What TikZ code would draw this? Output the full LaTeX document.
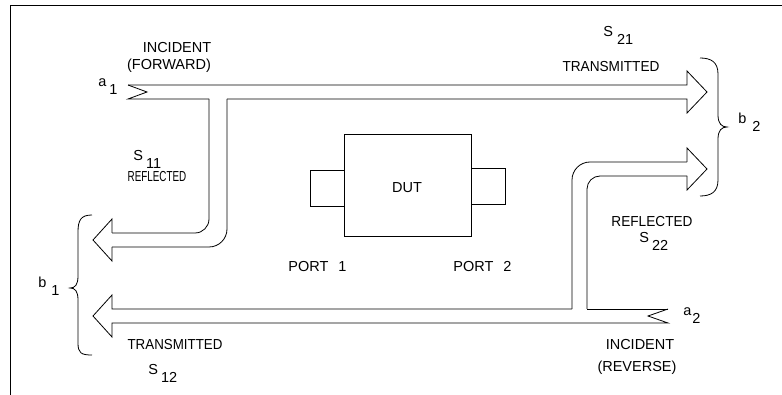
\documentclass[tikz,border=0pt]{standalone}
\usepackage{fontspec}
\setmainfont{Liberation Sans}
\newcommand\ssub[3][3pt]{#2\hspace{#1}\raisebox{-8pt}{#3}}
\newcommand\hsq[2]{\scalebox{#1}[1]{#2}}
\begin{document}
\begin{tikzpicture}[x=1pt,y=-1pt,line width=0.8pt,
  lbl/.style={inner sep=0pt,font=\fontsize{14.5}{16}\selectfont},
  box/.style={draw,inner sep=0pt,line width=0.8pt}]
\useasboundingbox (0,0) rectangle (782,395);
% frame
\draw[line width=1pt] (10,395) -- (10,6) -- (782,6);
% DUT
\node[box,minimum width=34pt,minimum height=36pt] (port1box) at (327,188) {};
\node[box,minimum width=34pt,minimum height=36pt] (port2box) at (488,186) {};
\node[box,fill=white,minimum width=127pt,minimum height=102pt] (dut) at (407.5,185) {};
\node[lbl,anchor=base] (duttext) at (407,193) {DUT};
\node[lbl,anchor=base west] (p1) at (288,272) {PORT\hspace{10pt}1};
\node[lbl,anchor=base west] (p2) at (453,272) {PORT\hspace{10pt}2};
% forward wave
\draw (128,85) -- (687,85) -- (687,71) -- (707,92) -- (687,113) -- (687,99) -- (227,99);
\draw[rounded corners=18pt] (227,99) -- (227,247) -- (112,247);
\draw (112,247) -- (112,261) -- (93,240) -- (112,219) -- (112,233);
\draw[rounded corners=14pt] (112,233) -- (209,233) -- (209,99);
\draw (209,99) -- (128,99) -- (147,92) -- (128,85);
% reverse wave
\draw (668,309) -- (648,316) -- (668,323) -- (112,323) -- (112,337) -- (93,316) -- (112,295) -- (112,309) -- (572,309);
\draw[rounded corners=18pt] (572,309) -- (572,162) -- (687,162);
\draw (687,162) -- (687,148) -- (707,169) -- (687,190) -- (687,176);
\draw[rounded corners=13pt] (687,176) -- (587,176) -- (587,309);
\draw (587,309) -- (668,309);
% braces
\draw (92,215) .. controls (81,215) and (78,220) .. (78,232) -- (78,276)
  .. controls (78,285) and (75,288) .. (70,288)
  .. controls (75,288) and (78,291) .. (78,300) -- (78,343)
  .. controls (78,353) and (81,355) .. (92,355);
\draw (700,58) .. controls (711,58) and (718,62) .. (718,74) -- (718,115)
  .. controls (718,124) and (722,127) .. (727,127)
  .. controls (722,127) and (718,130) .. (718,139) -- (718,180)
  .. controls (718,192) and (711,196) .. (700,196);
% labels
\node[lbl,anchor=base] (incF) at (177,53) {INCIDENT};
\node[lbl,anchor=base] (fwd) at (169,70) {(FORWARD)};
\node[lbl,anchor=base west] (a1) at (98,87) {\ssub{a}{1}};
\node[lbl,anchor=base west] (s11) at (133,161) {\ssub{S}{11}};
\node[lbl,anchor=base] (refl1) at (157,182) {\hsq{0.68}{REFLECTED}};
\node[lbl,anchor=base west] (s21) at (603,37) {\ssub[4pt]{S}{21}};
\node[lbl,anchor=base] (trans2) at (611,72) {\hsq{0.94}{TRANSMITTED}};
\node[lbl,anchor=base west] (b2) at (738,124) {\ssub[6pt]{b}{2}};
\node[lbl,anchor=base west] (b1) at (38,288) {\ssub[5pt]{b}{1}};
\node[lbl,anchor=base] (trans1) at (175,350) {\hsq{0.92}{TRANSMITTED}};
\node[lbl,anchor=base west] (s12) at (148,374) {\ssub{S}{12}};
\node[lbl,anchor=base] (refl2) at (652,227) {\hsq{0.94}{REFLECTED}};
\node[lbl,anchor=base west] (s22) at (639,243) {\ssub{S}{22}};
\node[lbl,anchor=base] (incR) at (640,350) {INCIDENT};
\node[lbl,anchor=base] (rev) at (637,371) {(REVERSE)};
\node[lbl,anchor=base west] (a2) at (683,316) {\ssub[1pt]{a}{2}};
\end{tikzpicture}
\end{document}
